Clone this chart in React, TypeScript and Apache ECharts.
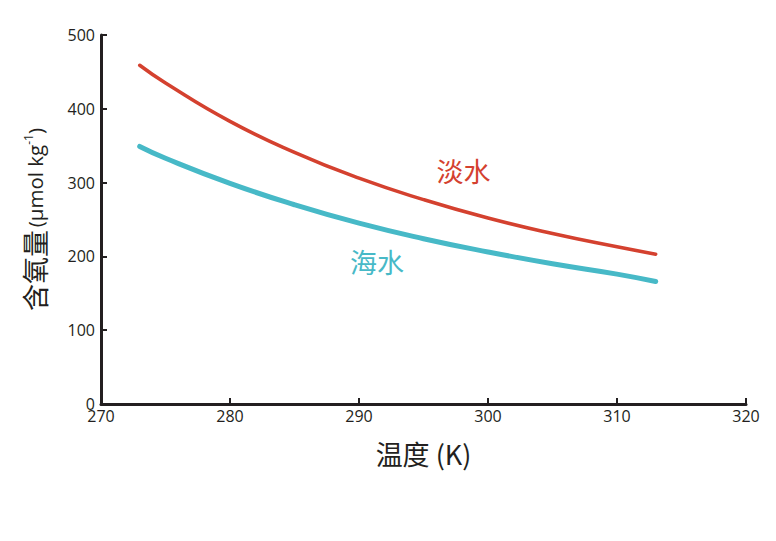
import React, { useEffect, useRef } from "react";
import * as echarts from "echarts";

const temps = [273, 275, 280, 285, 290, 295, 300, 305, 310, 313];
const freshwater = [459, 435, 383, 341, 306, 277, 252, 231, 213, 203];
const seawater = [349, 333, 299, 270, 245, 224, 206, 190, 176, 166];
const xTicks = [270, 280, 290, 300, 310, 320];
const yTicks = [0, 100, 200, 300, 400, 500];

const RED = "#d4412f";
const CYAN = "#47b9c7";
const AXIS = "#231f20";
const FONT = "'Open Sans', 'Noto Sans CJK SC', sans-serif";
const CJK = "'Noto Sans CJK SC', 'Open Sans', sans-serif";

export default function App() {
  const ref = useRef<HTMLDivElement>(null);
  useEffect(() => {
    if (!ref.current) return;
    const chart = echarts.init(ref.current, undefined, { renderer: "svg" });
    const axisCommon = {
      axisLine: { show: true, lineStyle: { color: AXIS, width: 3 } },
      axisTick: { show: true, inside: true, length: 6, lineStyle: { color: AXIS, width: 2 } },
      splitLine: { show: false },
    };
    chart.setOption({
      animation: false,
      backgroundColor: "#ffffff",
      grid: { left: 101, right: 30, top: 35, bottom: 137 },
      xAxis: {
        type: "value",
        min: xTicks[0],
        max: xTicks[xTicks.length - 1],
        interval: 10,
        ...axisCommon,
        axisLabel: { color: AXIS, fontSize: 16, fontFamily: FONT, margin: 4 },
        name: "温度 (K)",
        nameLocation: "middle",
        nameGap: 36,
        nameTextStyle: { color: AXIS, fontSize: 27, fontFamily: CJK },
      },
      yAxis: {
        type: "value",
        min: yTicks[0],
        max: yTicks[yTicks.length - 1],
        interval: 100,
        ...axisCommon,
        axisLabel: { color: AXIS, fontSize: 16, fontFamily: FONT, margin: 6 },
        name: "{a|含氧量} {b|(μmol kg}{c|-1}{b|)}",
        nameLocation: "middle",
        nameGap: 53,
        nameRotate: 90,
        nameTextStyle: {
          color: AXIS,
          fontFamily: CJK,
          rich: {
            a: { fontSize: 27, fontFamily: CJK, color: AXIS },
            b: { fontSize: 20.5, fontFamily: FONT, color: AXIS },
            c: { fontSize: 12, fontFamily: FONT, color: AXIS, verticalAlign: "top", padding: [1, 0, 0, 0] },
          },
        },
      },
      series: [
        {
          name: "淡水",
          type: "line",
          smooth: true,
          showSymbol: false,
          data: temps.map((t, i) => [t, freshwater[i]]),
          lineStyle: { color: RED, width: 3.5, cap: "round" },
          itemStyle: { color: RED },
          markPoint: {
            symbol: "circle",
            symbolSize: 0,
            data: [{ coord: [298.1, 316], value: "淡水" }],
            label: { show: true, formatter: "淡水", color: RED, fontSize: 27, fontFamily: CJK },
          },
        },
        {
          name: "海水",
          type: "line",
          smooth: true,
          showSymbol: false,
          data: temps.map((t, i) => [t, seawater[i]]),
          lineStyle: { color: CYAN, width: 5, cap: "round" },
          itemStyle: { color: CYAN },
          markPoint: {
            symbol: "circle",
            symbolSize: 0,
            data: [{ coord: [291.4, 193], value: "海水" }],
            label: { show: true, formatter: "海水", color: CYAN, fontSize: 27, fontFamily: CJK },
          },
        },
      ],
    });
    return () => chart.dispose();
  }, []);
  return <div ref={ref} style={{ position: "fixed", left: 0, top: 0, width: 776, height: 541 }} />;
}
